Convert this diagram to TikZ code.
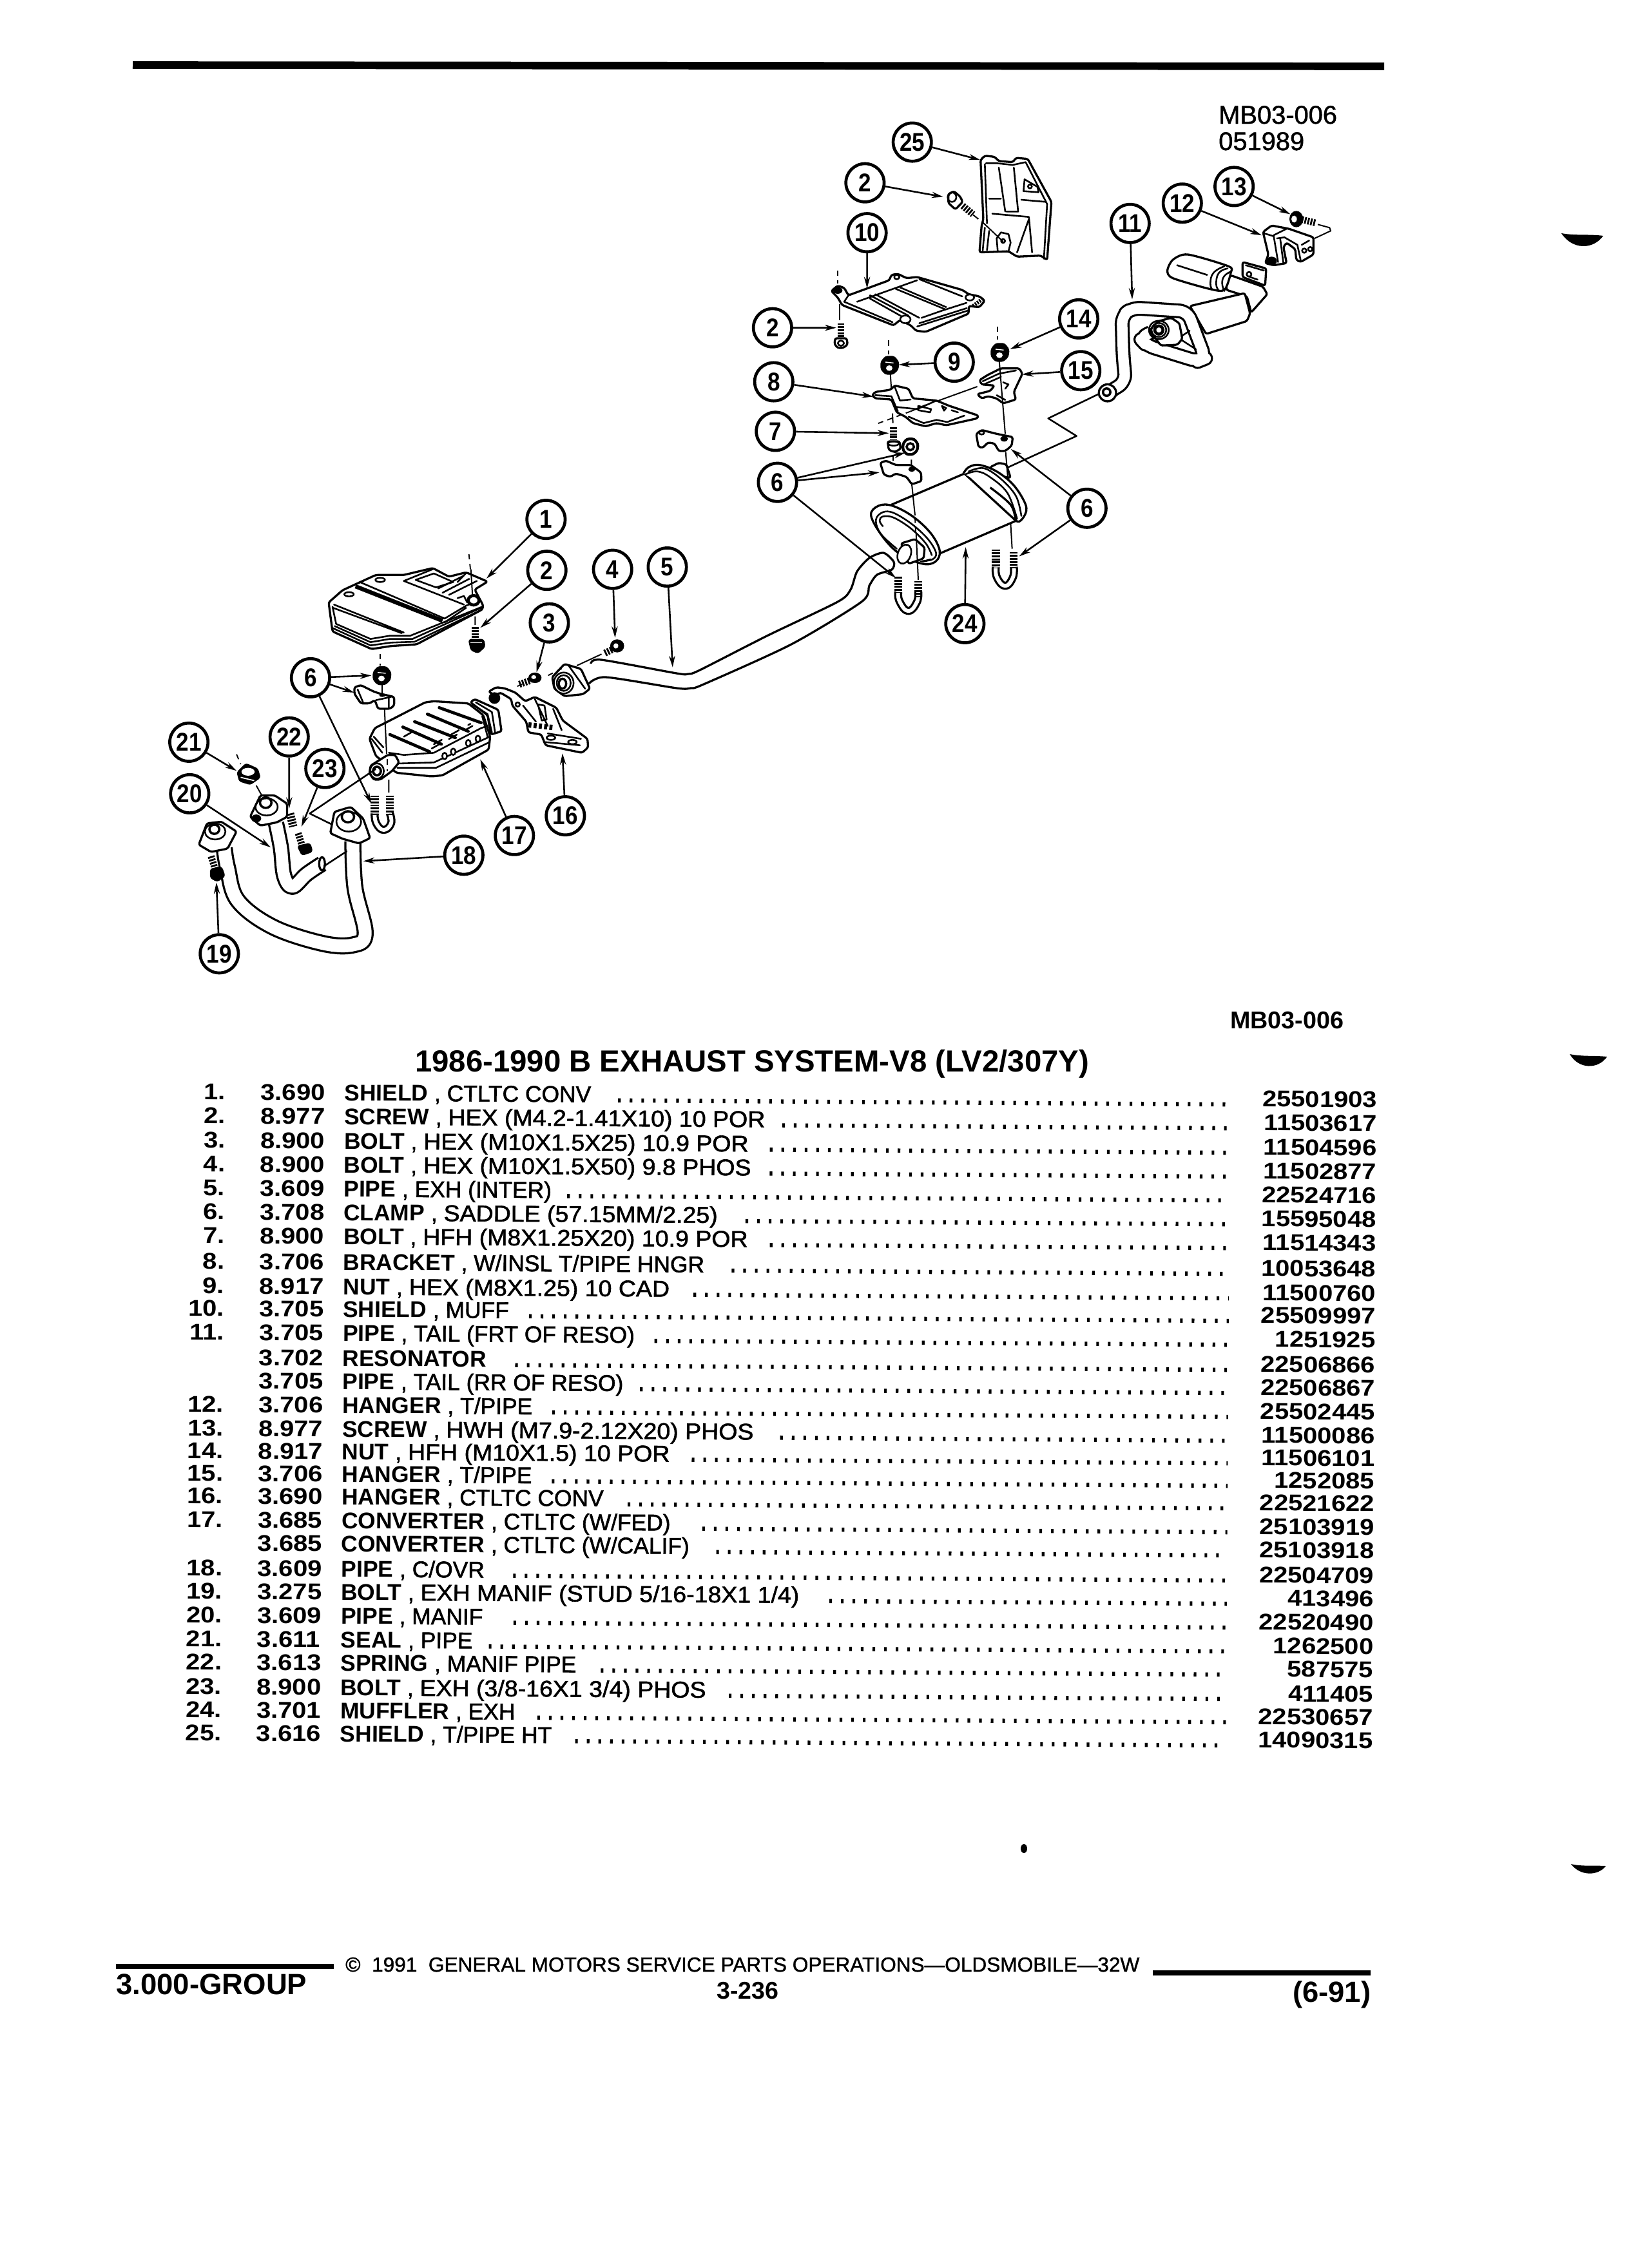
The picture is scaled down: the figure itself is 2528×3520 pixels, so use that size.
\documentclass[tikz,border=0pt]{standalone}
\usepackage{graphicx}
\usepackage{fontspec}
\usetikzlibrary{arrows.meta}
\setmainfont{Liberation Sans}
\newfontfamily\fD[FakeStretch=1.13]{Liberation Sans}
\newfontfamily\fM[FakeBold=1.6,FakeStretch=1.06]{Liberation Sans}
\newfontfamily\fL[FakeBold=1.6]{Liberation Sans}
\newfontfamily\fC[FakeBold=1.2]{Liberation Sans}
\newfontfamily\fN[FakeStretch=0.88]{Liberation Sans}
\tikzset{
 bub/.style={circle,draw,fill=white,line width=4pt,minimum size=1.78cm,inner sep=0pt,font=\fN\bfseries\fontsize{34}{34}\selectfont},
 arr/.style={line width=2.2pt,-{Stealth[length=15pt,width=8pt]}},
 part/.style={draw,fill=white,line width=2.8pt,line join=round,rounded corners=2.5pt},
 ln/.style={line width=2.2pt,line join=round,line cap=round},
 hv/.style={line width=4pt,line cap=round},
 fine/.style={line width=1.7pt},
 dsh/.style={line width=1.6pt,dash pattern=on 7pt off 6pt},
 tube/.style={double=white,draw=black,line width=2.8pt,line join=round},
 thr/.style={line width=9pt,dash pattern=on 2.4pt off 1.6pt},
 ttext/.style={anchor=base west,inner sep=0pt,font=\fontsize{30.2}{30.2}\selectfont},
 tcode/.style={anchor=base west,inner sep=0pt,font=\fD\bfseries\fontsize{30.2}{30.2}\selectfont},
 tnum/.style={anchor=base east,inner sep=0pt,font=\fD\bfseries\fontsize{30.2}{30.2}\selectfont},
 leader/.style={line width=5.5pt,dash pattern=on 3.5pt off 11.9pt},
 lab/.style={anchor=base west,inner sep=0pt},
}
\newcommand\Bub[3]{\node[bub] (#1) at (#2) {#3};}
\newcommand\Arr[3]{\coordinate (#1t) at (#3); \draw[arr] (#2) -- (#1t);}
% nuts are drawn in the 1/3 frames
\newcommand\Nut[1]{\begin{scope}[shift={(#1)}]
 \draw[part,fill=black] (-38,-14)--(-18,-38)--(20,-38)--(40,-12)--(36,20)--(14,40)--(-18,40)--(-38,18)--cycle;
 \fill[white] (-2,14) ellipse (15 and 13);
 \draw[white,line width=1.2pt] (-20,-14)--(18,-10);
 \end{scope}}
\newcommand\NutP[1]{\begin{scope}[shift={(#1)}]
 \draw[part,line width=3.6pt] (-34,-14)--(-16,-36)--(18,-36)--(36,-12)--(32,18)--(12,36)--(-16,36)--(-34,16)--cycle;
 \draw[line width=3pt] (0,0) ellipse (17 and 16);
 \end{scope}}
\newcommand\Row[7]{%
 \def\tmprest{#4}%
 \node[tcode] (rc#1) at (401,#7) {#2};
 \node[ttext] (rd#1) at (531,#7) {{\bfseries #3}\ifx\tmprest\empty\else{\fL\ , \fM #4}\fi};
 \node[tnum] (rp#1) at (2134,#7) {#6};
 \coordinate (ls#1) at (#5,#7-3);
 \coordinate (le#1) at (1906,#7-3);
 \draw[leader] (ls#1) -- (le#1);}
\newcommand\Num[3]{\node[tnum] (rn#1) at (347,#3) {#2};}
\begin{document}
\begin{tikzpicture}[x=0.03cm,y=-0.03cm]
\useasboundingbox (0,0) rectangle (2528,3520);
\fill[white] (0,0) rectangle (2528,3520);
% top rule
\coordinate (ra) at (206,101); \coordinate (rb) at (2148,103);
\draw[line width=10pt] (ra) -- (rb);
% smudges
\fill (2423,362) .. controls (2440,388) and (2472,388) .. (2488,366) .. controls (2465,363) and (2445,366) .. cycle;
\fill (2436,1636) .. controls (2450,1660) and (2480,1660) .. (2494,1640) .. controls (2475,1638) and (2455,1640) .. cycle;
\fill (2438,2893) .. controls (2452,2912) and (2480,2912) .. (2492,2896) .. controls (2475,2895) and (2455,2897) .. cycle;
\fill (1589,2869) ellipse (5 and 7);
% caption
\node[lab,font=\fC\fontsize{34}{34}\selectfont] (cap1) at (1891,192) {MB03-006};
\node[lab,font=\fC\fontsize{34}{34}\selectfont] (cap2) at (1891,233) {051989};

%%%%%%%%%%%% pipe 5 (page coordinates)
\draw[part,fill=none,rounded corners=0pt] plot[smooth,tension=.45] coordinates {(917,1030)(933,1024)(1050,1045)(1068,1046)(1086,1040)(1190,987)(1300,934)(1320,915)(1330,887)(1349,866)(1371,858)(1387,872)(1384,884)(1361,892)(1349,909)(1337,934)(1228,1000)(1092,1062)(1072,1068)(1050,1068)(940,1051)(914,1061)};

%%%%%%%%%%%% crop frame: shield 25, screw, shield 10, nuts
\begin{scope}[shift={(1290,230)},scale=.33333]
\draw[part] (695,55)--(715,35)--(760,40)--(780,60)--(845,65)--(860,45)--(915,50)--(1025,250)--(1005,520)--(975,500)--(865,505)--(825,480)--(690,485)--(700,360)--(708,330)--cycle;
\draw[ln] (715,75)--(725,350) (720,70)--(770,70)--(845,78)--(905,65)--(1005,260)--(990,515);
\draw[ln] (780,90)--(810,295) (850,90)--(870,295)--(815,295) (735,235)--(790,235) (885,240)--(1000,250);
\draw[ln] (750,305)--(920,320)--(935,485) (920,330)--(865,485) (715,370)--(705,478) (735,385)--(725,475);
\draw[ln] (775,480)--(770,420)--(790,392)--(825,400)--(835,440)--(825,480);
\draw[ln] (800,432) circle (9) (925,178) circle (9);
\draw[ln] (900,145)--(960,180)--(965,205)--(895,200)--cycle;
\draw[fine] (705,345)--(800,435);
% screw 2
\draw[thr] (612,268)--(660,308);
\draw[part] (545,215)--(570,200)--(600,225)--(612,250)--(578,285)--(545,255)--cycle;
\draw[ln] (562,228) ellipse (20 and 22);
\draw[fine] (660,310)--(685,330);
% shield 10
\draw[part] (0,665)--(30,640)--(60,650)--(80,685)--(270,615)--(280,590)--(310,585)--(350,605)--(400,600)--(610,660)--(640,680)--(690,690)--(715,710)--(690,740)--(640,735)--(640,770)--(440,855)--(395,850)--(370,825)--(320,800)--(290,825)--(50,730)--(30,695)--cycle;
\draw[ln] (80,685)--(60,715)--(285,810) (120,715)--(400,615) (180,685)--(360,780) (180,700)--(340,790) (205,680)--(410,790) (300,655)--(530,750) (320,648)--(535,740) (410,610)--(610,690) (420,790)--(520,755)--(630,720) (400,830)--(640,755) (410,815)--(630,745);
\draw[ln,fill=white] (645,695) ellipse (20 and 14);
\draw[ln,fill=white] (345,797) ellipse (24 and 18);
\draw[ln] (305,600) ellipse (12 and 10);
\fill (30,662) ellipse (22 and 16);
\draw[line width=5pt,dash pattern=on 2pt off 1.5pt] (660,735)--(700,705);
\draw[dsh] (30,570)--(30,630);
\draw[fine] (38,725)--(38,800);
\draw[thr] (45,815)--(45,885);
\draw[part] (18,885)--(72,885)--(76,915)--(55,930)--(30,930)--(15,912)--cycle;
\draw[ln] (45,908) ellipse (14 and 12);
% nuts
\draw[dsh] (268,895)--(268,960);
\draw[dsh] (775,830)--(775,890);
\Nut{272,1010}
\Nut{785,950}
\end{scope}

%%%%%%%%%%%% crop frame: bracket, hangers, muffler
\begin{scope}[shift={(1320,550)},scale=.33333]
% neck behind muffler
\draw[part] (650,525)--(690,505)--(725,512)--(745,575)--(660,560)--cycle;
% zigzag
\coordinate (z1) at (1185,170); \coordinate (z2) at (920,298); \coordinate (z3) at (1052,380); \coordinate (z4) at (735,525);
\draw[ln] (z1)--(z2)--(z3)--(z4);
% muffler body
\draw[part,rounded corners=0pt] (190,700)--(530,555)--(770,775)--(420,925)--cycle;
\draw[part,rounded corners=0pt] plot[smooth,tension=.6] coordinates {(525,555)(550,525)(600,515)(680,545)(760,610)(815,700)(810,750)(775,778)(745,700)(650,620)};
\draw[ln] plot[smooth,tension=.6] coordinates {(550,545)(620,530)(700,580)(770,660)(795,752)};
\draw[ln] plot[smooth,tension=.6] coordinates {(535,558)(590,545)(650,572)(730,645)(775,765)};
\draw[part,rounded corners=0pt] plot[smooth cycle,tension=.6] coordinates {(95,750)(130,705)(195,705)(290,755)(375,835)(415,915)(395,965)(335,975)(230,930)(150,850)};
\draw[ln] plot[smooth,tension=.6] coordinates {(215,905)(140,835)(118,770)(150,735)(200,738)(285,790)(360,860)(398,925)(380,955)(335,962)};
\draw[ln] plot[smooth,tension=.6] coordinates {(150,800)(135,775)(150,755)(200,760)(280,810)(350,880)(378,935)};
\draw[part] (235,880)--(300,860)--(345,900)--(340,950)--(270,975)--cycle;
\draw[ln,fill=white,rotate around={-20:(250,930)}] (250,930) ellipse (30 and 46);
\fill (320,965) .. controls (345,972) and (365,965) .. (375,950) .. controls (365,952) and (345,958) .. cycle;
% bracket 8
\draw[part] (100,190)--(115,175)--(185,165)--(205,145)--(270,160)--(290,205)--(400,215)--(460,240)--(595,285)--(590,298)--(445,330)--(400,320)--(350,335)--(290,320)--(255,290)--(215,270)--(190,210)--(115,205)--cycle;
\draw[ln] (115,190)--(190,195)--(220,265) (205,150)--(230,215)--(280,210) (315,240)--(375,255)--(370,270)--(315,260)--cycle (270,290)--(340,320)--(400,305)--(450,315)--(530,285) (425,240)--(445,250)--(435,262)--cycle (470,260)--(500,270) (215,245)--(310,255)--(400,215);
\draw[fine] (590,150)--(410,215) (350,235)--(280,265);
\draw[dsh] (280,265)--(110,328);
\draw[fine] (185,90)--(190,165) (195,275)--(197,320);
% bolt 7
\draw[thr] (200,340)--(200,398);
\draw[part] (172,405)--(228,405)--(233,440)--(205,455)--(178,445)--cycle;
\draw[ln] (200,415) ellipse (25 and 10);
% nut pale
\NutP{278,430}
% hanger 15
\draw[part] (600,120)--(640,95)--(700,65)--(785,65)--(800,90)--(760,175)--(770,210)--(710,228)--(680,205)--(640,195)--(610,205)--(590,185)--(650,170)--(670,145)--(610,140)--cycle;
\draw[ln] (615,125)--(690,90)--(770,75) (620,140)--(700,105) (710,130)--(735,140)--(720,160) (680,190)--(720,212);
\draw[fine] (692,30)--(720,370);
% clamp right
\draw[part] (585,370)--(610,352)--(680,370)--(755,385)--(750,425)--(720,450)--(690,450)--(670,415)--(640,410)--(615,435)--(595,430)--cycle;
\fill (715,393) ellipse (18 and 13);
\draw[ln] (610,365) ellipse (12 and 8);
\draw[fine] (722,455)--(732,575);
% clamp left
\draw[part] (138,505)--(165,495)--(210,515)--(280,515)--(328,550)--(330,590)--(285,605)--(260,570)--(210,555)--(185,570)--(155,560)--cycle;
\fill (285,535) ellipse (16 and 12);
\draw[fine] (198,470)--(198,495) (283,490)--(283,520) (285,605)--(300,750);
\draw[dsh] (300,760)--(303,830);
\draw[fine] (305,830)--(315,1050) (745,785)--(752,905);
% u-bolts
\draw[tube,double distance=5pt] plot[smooth,tension=.8] coordinates {(676,990)(682,1040)(720,1078)(755,1040)(760,990)};
\draw[thr,line width=11pt] (676,908)--(676,995) (759,920)--(759,995);
\draw[tube,double distance=5pt] plot[smooth,tension=.8] coordinates {(222,1105)(228,1150)(268,1195)(308,1155)(315,1105)};
\draw[thr,line width=11pt] (222,1036)--(222,1110) (315,1055)--(315,1130);
\end{scope}

%%%%%%%%%%%% crop frame: resonator, hanger 12, screw 13
\begin{scope}[shift={(1800,280)},scale=.33333]
\draw[part] (385,380)--(495,410)--(490,490)--(385,450)--cycle;
\draw[ln] (400,395)--(485,420) (415,437) circle (11) (420,450)--(455,462);
\draw[part] (310,450)--(330,442)--(480,495)--(500,530)--(425,615)--(405,540)--(310,510)--cycle;
\draw[part] (140,585)--(395,525)--(420,620)--(405,655)--(215,715)--cycle;
\draw[part,rounded corners=0pt] plot[smooth cycle,tension=.45] coordinates {(35,420)(60,370)(130,345)(320,400)(330,430)(300,510)(230,505)(60,455)};
\draw[ln] plot[smooth,tension=.8] coordinates {(300,400)(250,430)(235,480)(245,510)};
\draw[ln] plot[smooth,tension=.8] coordinates {(315,410)(275,430)(262,480)(272,510)};
\draw[ln] plot[smooth,tension=.8] coordinates {(330,425)(300,445)(290,480)(300,515)};
\draw[ln] (80,395)--(220,440);
% hanger 12
\draw[part] (480,240)--(520,210)--(600,225)--(715,265)--(715,345)--(655,380)--(635,370)--(630,320)--(590,290)--(575,310)--(590,385)--(530,395)--(490,385)--(505,345)--cycle;
\draw[ln] (480,245)--(530,260)--(550,380) (530,255)--(590,225) (545,270)--(580,265)--(640,300)--(655,370) (660,300)--(695,280) (560,270)--(575,385);
\fill (520,375) ellipse (25 and 20);
\draw[ln] (672,327) circle (10) (700,320) circle (10);
% screw 13
\draw[thr] (660,182)--(725,198);
\fill (635,180) ellipse (32 and 38);
\fill[white] (625,180) ellipse (13 and 16);
\draw[fine] (735,205)--(790,220)--(795,235)--(720,270);
\end{scope}

%%%%%%%%%%%% tail pipe loop (zoom frame 1)
\begin{scope}[shift={(1100,100)},xscale=.6378,yscale=.574]
\draw[tube,double distance=14pt,rounded corners=11pt] (1075,725)--(1048,740)--(1065,760)--(1190,803)--(1208,795)--(1165,668)--(1030,658)--(1005,680)--(1008,790)--(1014,858)--(975,885);
\draw[part] (1072,720)--(1092,695)--(1125,685)--(1145,700)--(1152,742)--(1140,758)--(1100,760)--cycle;
\draw[ln] (1095,718) ellipse (24 and 25) (1095,718) ellipse (18 and 19);
\draw[hv] (1095,718) ellipse (10 and 11);
\draw[ln] (1150,745)--(1185,770) (1150,735)--(1170,720);
\draw[part] (970,888) ellipse (21 and 23);
\draw[hv,line width=3pt] (968,886) ellipse (9 and 10);
\Bub{b25}{495,210}{25} \Bub{b2a}{380,320}{2} \Bub{b10}{385,455}{10} \Bub{b2b}{155,712}{2}
\Bub{b9}{597,805}{9} \Bub{b8}{158,858}{8} \Bub{b7}{162,992}{7} \Bub{b6a}{167,1130}{6}
\Bub{b14}{900,688}{14} \Bub{b15}{905,828}{15} \Bub{b11}{1025,430}{11} \Bub{b12}{1152,375}{12}
\Bub{b13}{1278,330}{13} \Bub{b6b}{920,1200}{6} \Bub{b24}{623,1512}{24}
\Arr{a25}{b25}{660,258} \Arr{a2a}{b2a}{570,358} \Arr{a10}{b10}{385,605} \Arr{a2b}{b2b}{310,712}
\Arr{a9}{b9}{462,812} \Arr{a8}{b8}{400,898} \Arr{a7}{b7}{438,997}
\Arr{a6a}{b6a}{478,1050} \Arr{a6b}{b6a}{415,1103} \Arr{a6c}{b6a}{455,1388}
\Arr{a14}{b14}{733,770} \Arr{a15}{b15}{762,838} \Arr{a11}{b11}{1030,635}
\Arr{a12}{b12}{1345,462} \Arr{a13}{b13}{1415,405} \Arr{a6d}{b6b}{735,1040} \Arr{a6e}{b6b}{755,1330}
\Arr{a24}{b24}{625,1305}
\end{scope}

%%%%%%%%%%%% crop frame: shield 1, bolt 2, clamp, nut
\begin{scope}[shift={(480,860)},scale=.33333]
\draw[part] (90,225)--(155,168)--(310,97)--(440,97)--(575,65)--(650,105)--(730,85)--(830,128)--(770,165)--(810,240)--(805,258)--(500,420)--(380,428)--(290,442)--(108,360)--cycle;
\draw[ln] (108,245)--(125,325)--(285,395)--(375,380)--(470,380)--(805,245);
\draw[ln] (118,335)--(285,410)--(375,395)--(480,395)--(800,250);
\draw[ln] (110,345)--(285,425)--(380,412)--(490,408)--(805,258);
\draw[ln] (115,235)--(440,365) (110,250)--(430,368);
\draw[line width=5.5pt] (215,150)--(620,310);
\draw[ln] (235,130)--(630,300)--(730,240)--(760,228) (630,318)--(730,250);
\draw[ln] (440,125)--(720,235) (440,125)--(575,70) (495,120)--(580,90)--(670,130)--(590,155)--cycle;
\draw[ln] (600,160)--(720,100) (620,180)--(745,115) (650,190)--(780,125) (690,205)--(720,195)--(735,225) (730,88)--(690,130);
\draw[ln] (330,120) ellipse (22 and 10) (185,187) ellipse (22 and 10);
\draw[line width=4pt,fill=white] (765,215) ellipse (25 and 22);
\draw[dsh] (743,0)--(750,70);
\draw[fine] (752,70)--(760,195) (772,290)--(772,330);
\draw[thr] (772,340)--(772,392);
\draw[part,fill=black] (745,400)--(810,400)--(815,430)--(785,458)--(755,445)--cycle;
\draw[white,line width=1.2pt] (750,412)--(805,412);
% clamp and nut of converter
\draw[dsh] (330,465)--(330,520);
\draw[fine] (340,590)--(340,655);
\draw[part] (210,620)--(240,610)--(300,640)--(330,650)--(395,665)--(395,705)--(375,720)--(320,720)--(305,680)--(280,695)--(240,695)--(210,650)--cycle;
\draw[ln] (225,630)--(250,690) (310,680)--(380,665) (370,670)--(370,718);
\fill (340,658) ellipse (14 and 7);
\Nut{338,565}
\end{scope}

%%%%%%%%%%%% crop frame: converter, hanger 16
\begin{scope}[shift={(530,1040)},scale=.33333]
\draw[part] (600,150)--(620,135)--(730,185)--(745,285)--(695,300)--(680,210)--cycle;
\draw[ln] (625,150)--(700,195)--(715,290) (610,160)--(680,205)--(700,290);
\draw[part] (130,320)--(155,270)--(215,240)--(390,150)--(430,145)--(590,155)--(660,210)--(692,310)--(685,370)--(470,490)--(420,495)--(255,478)--(200,430)--(160,400)--cycle;
\draw[ln] (220,385)--(290,395)--(430,385)--(650,270)--(680,260);
\draw[ln] (260,435)--(430,430)--(690,310);
\draw[ln] (260,455)--(440,455)--(690,335);
\draw[ln] (140,320)--(190,385) (150,310)--(195,360) (655,215)--(680,310);
\draw[hv] (225,300)--(410,380) (285,265)--(465,345) (340,240)--(530,315) (400,205)--(590,285) (455,175)--(650,245);
\draw[ln,dash pattern=on 12pt off 14pt] (290,310)--(360,270) (420,365)--(610,260) (430,345)--(600,250);
\foreach \bx/\by in {480/400,520/380,590/340,635/320}{\draw[ln,fill=white] (\bx,\by) ellipse (11 and 15);}
\draw[part] (135,445)--(215,395)--(250,395)--(268,430)--(235,470)--(180,510)--(150,510)--(130,480)--cycle;
\draw[ln,fill=white] (165,470) ellipse (32 and 36);
\draw[hv,line width=3.2pt] (165,470) ellipse (18 and 20);
\draw[fine] (200,180)--(210,390) (220,510)--(220,570);
\draw[dsh] (212,415)--(212,470);
% hanger 16
\draw[part] (685,100)--(720,80)--(760,85)--(810,105)--(855,145)--(900,125)--(950,150)--(1000,175)--(1030,235)--(1145,320)--(1148,360)--(1120,385)--(950,350)--(930,300)--(870,290)--(860,240)--(795,165)--(790,135)--(740,105)--(720,115)--(700,110)--cycle;
\fill (712,130) ellipse (27 and 27);
\draw[ln] (845,165)--(905,240) (900,135)--(960,260) (915,160)--(945,165)--(955,230)--(932,235)--cycle (985,180)--(1025,280) (960,295)--(1115,320) (945,335)--(1110,350);
\draw[line width=7pt,dash pattern=on 4pt off 3pt] (870,255)--(990,268);
\draw[ln] (975,315) ellipse (20 and 10) (1075,335) ellipse (20 and 10) (820,160) circle (10);
\end{scope}

%%%%%%%%%%%% lower left group (zoom frame 2)
\begin{scope}[shift={(200,750)},xscale=.6378,yscale=.51]
% pipe 5 flange
\draw[part] (1030,590)--(1060,550)--(1100,565)--(1122,625)--(1105,642)--(1060,648)--(1035,625)--cycle;
\draw[ln,fill=white] (1058,608) ellipse (24 and 32);
\draw[ln] (1058,608) ellipse (17 and 24);
\draw[hv,line width=3pt] (1055,610) ellipse (9 and 15);
\draw[ln] (1070,555)--(1110,625);
% bolts 3,4
\draw[thr] (950,612)--(978,600);
\fill (988,592) ellipse (16 and 16);
\fill[white] (985,590) ellipse (6 and 6);
\draw[thr] (1158,517)--(1178,505);
\fill (1188,495) ellipse (17 and 20);
\fill[white] (1185,495) ellipse (6 and 8);
\draw[dsh] (945,618)--(960,610);
\draw[dsh] (1020,585)--(1060,560);
\draw[fine] (1090,555)--(1150,520);
% u-bolt
\draw[tube,double distance=5pt] plot[smooth,tension=.8] coordinates {(598,1005)(602,1035)(620,1055)(638,1035)(635,1005)};
\draw[thr,line width=11pt] (598,950)--(598,1010) (635,950)--(635,1010);
% seal 21
\draw[dsh] (262,825)--(272,855);
\draw[part,fill=black] (265,880)--(285,855)--(312,870)--(318,895)--(295,915)--(270,905)--cycle;
\fill[white] (290,878) ellipse (16 and 12);
\draw[white,line width=1.5pt] (272,895)--(305,905);
\draw[fine] (310,920)--(330,965);
% zigzag
\coordinate (y1) at (600,870); \coordinate (y2) at (440,1005); \coordinate (y3) at (500,1042);
\draw[ln] (y1)--(y2)--(y3);
% pipe 18
\draw[tube,double distance=17pt] plot[smooth,tension=.6] coordinates {(545,1090)(550,1230)(575,1370)(545,1405)(470,1400)(350,1350)(265,1270)(240,1170)(232,1110)};
% pipe 20
\draw[tube,double distance=16pt] plot[smooth,tension=.6] coordinates {(358,1035)(370,1110)(378,1195)(398,1228)(432,1190)(470,1158)};
\draw[part] (470,1158) ellipse (7 and 20);
\coordinate (x1) at (475,1165); \coordinate (x2) at (530,1120);
\draw[ln] (x1)--(x2);
% spring 22 bolt 23
\draw[thr,line width=11pt] (392,1005)--(400,1045);
\draw[thr] (412,1065)--(422,1105);
\draw[part,fill=black] (412,1105)--(440,1098)--(445,1120)--(422,1130)--cycle;
% flange left
\draw[part] (170,1100)--(190,1035)--(225,1030)--(262,1060)--(240,1112)--(200,1122)--cycle;
\draw[ln] (210,1060) ellipse (25 and 24);
\draw[hv,line width=3pt] (208,1053) ellipse (12 and 14);
% flange 20
\draw[part] (295,1015)--(320,950)--(355,950)--(385,975)--(385,1015)--(360,1032)--(320,1042)--cycle;
\draw[ln] (335,985) ellipse (27 and 26);
\draw[hv,line width=3pt] (333,972) ellipse (14 and 16);
\fill (310,1020) ellipse (12 and 12);
% flange 18
\draw[part] (490,1065)--(500,1000)--(540,985)--(570,1020)--(587,1080)--(560,1096)--(520,1082)--cycle;
\draw[ln] (535,1030) ellipse (30 and 30);
\draw[hv,line width=3pt] (533,1015) ellipse (15 and 17);
% stud 19
\draw[thr] (200,1135)--(210,1175);
\draw[part,fill=black] (200,1175)--(225,1170)--(232,1195)--(215,1210)--(200,1200)--cycle;
% bubbles
\Bub{c1}{1015,110}{1} \Bub{c2}{1017,265}{2} \Bub{c3}{1023,425}{3} \Bub{c4}{1177,262}{4}
\Bub{c5}{1310,255}{5} \Bub{c6}{442,592}{6} \Bub{c21}{146,788}{21} \Bub{c22}{390,772}{22}
\Bub{c23}{477,868}{23} \Bub{c20}{148,945}{20} \Bub{c17}{938,1072}{17} \Bub{c16}{1062,1012}{16}
\Bub{c18}{815,1132}{18} \Bub{c19}{220,1432}{19}
\Arr{d1}{c1}{870,290} \Arr{d2}{c2}{855,440} \Arr{d3}{c3}{992,575} \Arr{d4}{c4}{1183,470}
\Arr{d5}{c5}{1323,560} \Arr{d6a}{c6}{590,585} \Arr{d6b}{c6}{548,637} \Arr{d6c}{c6}{590,975}
\Arr{d21}{c21}{262,875} \Arr{d22}{c22}{390,990} \Arr{d23}{c23}{420,1045} \Arr{d20}{c20}{345,1108}
\Arr{d17}{c17}{855,840} \Arr{d16}{c16}{1055,822} \Arr{d18}{c18}{570,1150} \Arr{d19}{c19}{213,1215}
\end{scope}

%%%%%%%%%%%% heading
\node[lab,font=\bfseries] (mb2) at (1909,1596) {\resizebox{5.28cm}{!}{MB03-006}};
\node[lab,font=\bfseries] (title) at (644,1663) {\resizebox{31.38cm}{!}{1986-1990 B EXHAUST SYSTEM-V8 (LV2/307Y)}};

%%%%%%%%%%%% table
\begin{scope}[rotate around={-0.38:(1270,2200)},transform shape]
\Num{1}{1.}{1713} \Row{1}{3.690}{SHIELD}{\fL CTLTC CONV}{956}{25501903}{1713}
\Num{2}{2.}{1750} \Row{2}{8.977}{SCREW}{HEX (M4.2-1.41X10) 10 POR}{1211}{11503617}{1750}
\Num{3}{3.}{1788} \Row{3}{8.900}{BOLT}{HEX (M10X1.5X25) 10.9 POR}{1192}{11504596}{1788}
\Num{4}{4.}{1825} \Row{4}{8.900}{BOLT}{HEX (M10X1.5X50) 9.8 PHOS}{1192}{11502877}{1825}
\Num{5}{5.}{1862} \Row{5}{3.609}{PIPE}{\fL EXH (INTER)}{878}{22524716}{1862}
\Num{6}{6.}{1899} \Row{6}{3.708}{CLAMP}{SADDLE (57.15MM/2.25)}{1155}{15595048}{1899}
\Num{7}{7.}{1936} \Row{7}{8.900}{BOLT}{HFH (M8X1.25X20) 10.9 POR}{1193}{11514343}{1936}
\Num{8}{8.}{1976} \Row{8}{3.706}{BRACKET}{\fL W/INSL T/PIPE HNGR}{1134}{10053648}{1976}
\Num{9}{9.}{2014} \Row{9}{8.917}{NUT}{HEX (M8X1.25) 10 CAD}{1075}{11500760}{2014}
\Num{10}{10.}{2049} \Row{10}{3.705}{SHIELD}{\fL MUFF}{820}{25509997}{2049}
\Num{11}{11.}{2086} \Row{11}{3.705}{PIPE}{\fL TAIL (FRT OF RESO)}{1015}{1251925}{2086}
\Row{11b}{3.702}{RESONATOR}{}{799}{22506866}{2125}
\Row{11c}{3.705}{PIPE}{\fL TAIL (RR OF RESO)}{993}{22506867}{2161}
\Num{12}{12.}{2198} \Row{12}{3.706}{HANGER}{\fL T/PIPE}{857}{25502445}{2198}
\Num{13}{13.}{2235} \Row{13}{8.977}{SCREW}{HWH (M7.9-2.12X20) PHOS}{1211}{11500086}{2235}
\Num{14}{14.}{2270} \Row{14}{8.917}{NUT}{HFH (M10X1.5) 10 POR}{1074}{11506101}{2270}
\Num{15}{15.}{2305} \Row{15}{3.706}{HANGER}{\fL T/PIPE}{857}{1252085}{2305}
\Num{16}{16.}{2340} \Row{16}{3.690}{HANGER}{\fL CTLTC CONV}{975}{22521622}{2340}
\Num{17}{17.}{2377} \Row{17}{3.685}{CONVERTER}{\fL CTLTC (W/FED)}{1091}{25103919}{2377}
\Row{17b}{3.685}{CONVERTER}{\fL CTLTC (W/CALIF)}{1113}{25103918}{2413}
\Num{18}{18.}{2452} \Row{18}{3.609}{PIPE}{\fL C/OVR}{798}{22504709}{2452}
\Num{19}{19.}{2488} \Row{19}{3.275}{BOLT}{EXH MANIF (STUD 5/16-18X1 1/4)}{1289}{413496}{2488}
\Num{20}{20.}{2525} \Row{20}{3.609}{PIPE}{\fL MANIF}{799}{22520490}{2525}
\Num{21}{21.}{2562} \Row{21}{3.611}{SEAL}{\fL PIPE}{761}{1262500}{2562}
\Num{22}{22.}{2598} \Row{22}{3.613}{SPRING}{\fL MANIF PIPE}{935}{587575}{2598}
\Num{23}{23.}{2636} \Row{23}{8.900}{BOLT}{EXH (3/8-16X1 3/4) PHOS}{1134}{411405}{2636}
\Num{24}{24.}{2672} \Row{24}{3.701}{MUFFLER}{\fL EXH}{837}{22530657}{2672}
\Num{25}{25.}{2708} \Row{25}{3.616}{SHIELD}{\fL T/PIPE HT}{896}{14090315}{2708}
\end{scope}

%%%%%%%%%%%% footer
\coordinate (f1) at (180,3052); \coordinate (f2) at (518,3052);
\coordinate (f3) at (1789,3062); \coordinate (f4) at (2127,3062);
\draw[line width=6.5pt] (f1)--(f2);
\draw[line width=6.5pt] (f3)--(f4);
\node[lab,font=\bfseries] (fa) at (180,3095) {\resizebox{8.88cm}{!}{3.000-GROUP}};
\node[lab,font=\fC] (fb) at (536,3060) {\resizebox{36.96cm}{!}{©\ \ 1991\ \ GENERAL MOTORS SERVICE PARTS OPERATIONS—OLDSMOBILE—32W}};
\node[lab,font=\bfseries] (fc) at (1112,3102) {\resizebox{2.88cm}{!}{3-236}};
\node[lab,font=\bfseries] (fd) at (2006,3107) {\resizebox{3.63cm}{!}{(6-91)}};
\end{tikzpicture}
\end{document}
